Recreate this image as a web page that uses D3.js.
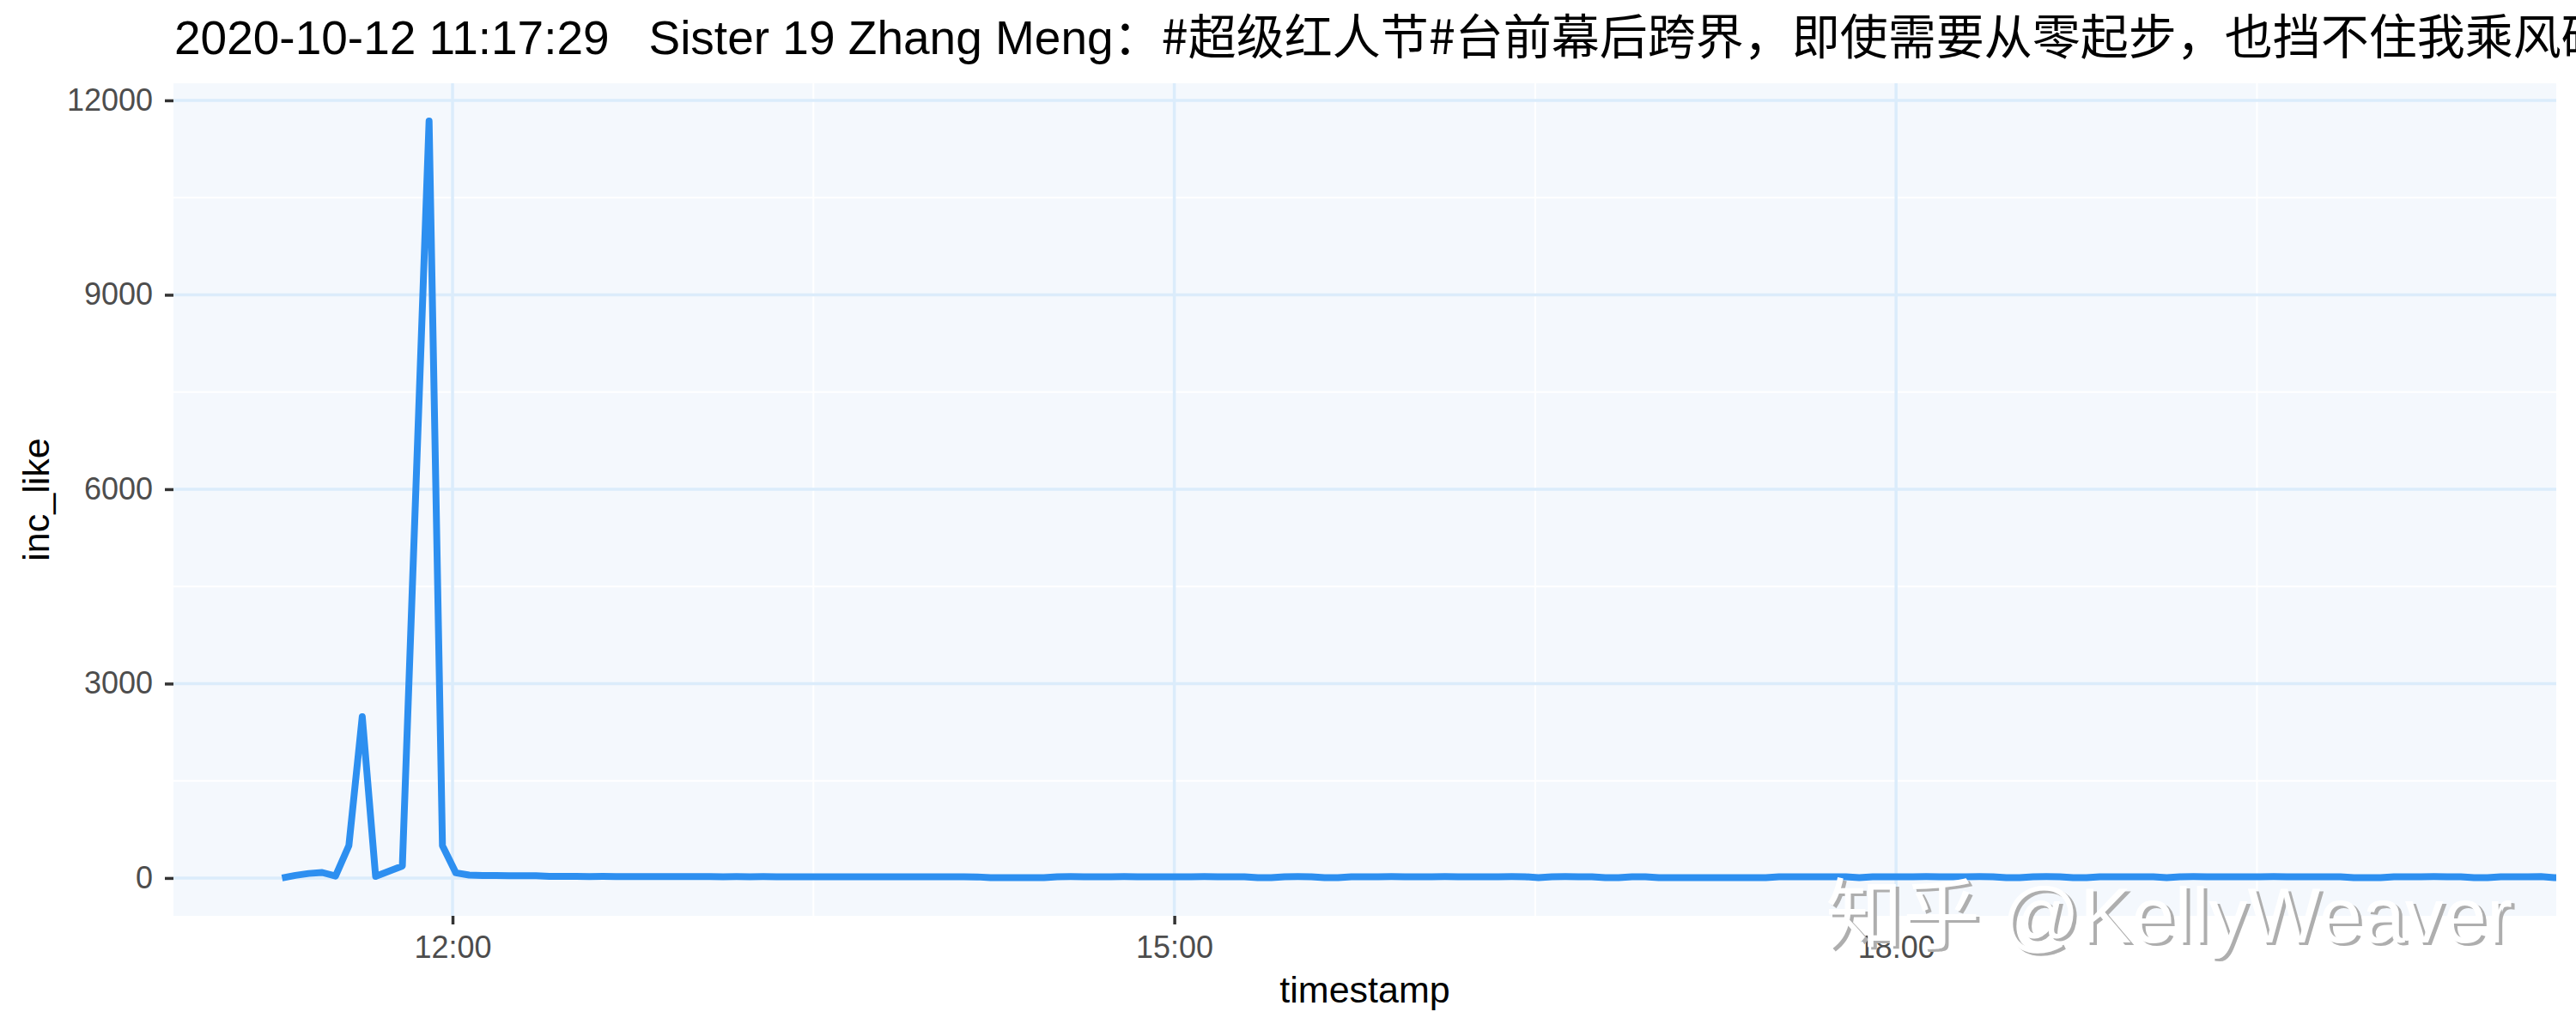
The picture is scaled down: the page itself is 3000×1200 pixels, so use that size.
<!DOCTYPE html>
<html><head><meta charset="utf-8">
<script src="https://cdn.jsdelivr.net/npm/d3@7"></script>
<style>body{margin:0;background:#fff}</style>
</head><body>
<svg id="c" width="3000" height="1200"></svg>
<script>
const DAY = "2020-10-12";
const titleLatin = "2020-10-12 11:17:29   Sister 19 Zhang Meng";
const titleCJK = "：#超级红人节#台前幕后跨界，即使需要从零起步，也挡不住我乘风破浪";
const xTitle = "timestamp";
const yTitle = "inc_like";
const watermark = "知乎 @KellyWeaver";

// sample timestamps (HH:MM:SS on 2020-10-12)
const times = [
 "11:17:29","11:20:49","11:24:09","11:27:29","11:30:49","11:34:09","11:37:29","11:40:49","11:47:29","11:54:09","11:57:29",
 "12:00:49","12:04:09","12:07:29","12:10:49","12:14:09","12:17:29","12:20:49","12:24:09","12:27:29","12:30:49","12:34:09","12:37:29","12:40:49","12:44:09","12:47:29","12:50:49","12:54:09","12:57:29",
 "13:00:49","13:04:09","13:07:29","13:10:49","13:14:09","13:17:29","13:20:49","13:24:09","13:27:29","13:30:49","13:34:09","13:37:29","13:40:49","13:44:09","13:47:29","13:50:49","13:54:09","13:57:29",
 "14:00:49","14:04:09","14:07:29","14:10:49","14:14:09","14:17:29","14:20:49","14:24:09","14:27:29","14:30:49","14:34:09","14:37:29","14:40:49","14:44:09","14:47:29","14:50:49","14:54:09","14:57:29",
 "15:00:49","15:04:09","15:07:29","15:10:49","15:14:09","15:17:29","15:20:49","15:24:09","15:27:29","15:30:49","15:34:09","15:37:29","15:40:49","15:44:09","15:47:29","15:50:49","15:54:09","15:57:29",
 "16:00:49","16:04:09","16:07:29","16:10:49","16:14:09","16:17:29","16:20:49","16:24:09","16:27:29","16:30:49","16:34:09","16:37:29","16:40:49","16:44:09","16:47:29","16:50:49","16:54:09","16:57:29",
 "17:00:49","17:04:09","17:07:29","17:10:49","17:14:09","17:17:29","17:20:49","17:24:09","17:27:29","17:30:49","17:34:09","17:37:29","17:40:49","17:44:09","17:47:29","17:50:49","17:54:09","17:57:29",
 "18:00:49","18:04:09","18:07:29","18:10:49","18:14:09","18:17:29","18:20:49","18:24:09","18:27:29","18:30:49","18:34:09","18:37:29","18:40:49","18:44:09","18:47:29","18:50:49","18:54:09","18:57:29",
 "19:00:49","19:04:09","19:07:29","19:10:49","19:14:09","19:17:29","19:20:49","19:24:09","19:27:29","19:30:49","19:34:09","19:37:29","19:40:49","19:44:09","19:47:29","19:50:49","19:54:09","19:57:29",
 "20:00:49","20:04:09","20:07:29","20:10:49","20:14:09","20:17:29","20:20:49","20:24:09","20:27:29","20:30:49","20:34:09","20:37:29","20:40:49","20:44:09","20:47:29","20:50:49"
];
// increment of likes per sample
const incLike = [
 0,40,70,85,30,500,2490,25,185,11680,500,
 80,45,40,38,36,35,34,25,24,24,23,24,22,23,22,22,21,22,
 21,22,20,21,20,21,20,19,20,20,19,20,19,19,20,18,19,18,
 19,18,18,17,6,5,6,5,6,20,21,20,19,20,21,19,20,20,
 19,20,21,20,19,20,4,5,20,21,19,5,4,20,19,20,21,20,
 19,20,21,19,20,20,19,21,20,5,20,21,20,19,5,4,20,19,
 6,5,4,6,5,5,4,5,6,18,19,20,19,20,20,6,18,19,
 20,19,21,20,19,20,21,20,6,5,20,21,19,6,5,20,19,20,
 19,20,6,20,21,19,20,19,20,20,21,20,19,19,20,20,6,5,
 6,20,19,20,21,20,19,6,5,20,19,20,21,6,5,20
];

const xLimits = ["10:50:24","20:44:38"];
const xTickLabels = ["12:00","15:00","18:00"];
const xMinorTicks = ["10:30","13:30","16:30","19:30"];
const yTicks = [0,3000,6000,9000,12000];
const yMinorTicks = [1500,4500,7500,10500];

const parse = d3.timeParse("%Y-%m-%d %H:%M:%S");
const parseHM = d3.timeParse("%Y-%m-%d %H:%M");
const data = times.map((t,i)=>({t: parse(DAY+" "+t), v: incLike[i]}));

const P = {left:202, right:2977, top:97, bottom:1067};
const svg = d3.select("#c");

const x = d3.scaleTime()
  .domain(xLimits.map(s=>parse(DAY+" "+s)))
  .range([P.left, P.right]);
const yMin = d3.min(incLike), yMax = d3.max(incLike), yPad = 0.05*(yMax-yMin);
const y = d3.scaleLinear().domain([yMin-yPad, yMax+yPad]).range([P.bottom, P.top]);

// panel
svg.append("rect").attr("x",P.left).attr("y",P.top)
  .attr("width",P.right-P.left).attr("height",P.bottom-P.top).attr("fill","#F4F8FD");

const grid = svg.append("g");
// minor grid
grid.selectAll(".ym").data(yMinorTicks).enter().append("line")
  .attr("x1",P.left).attr("x2",P.right).attr("y1",d=>y(d)).attr("y2",d=>y(d))
  .attr("stroke","#ffffff").attr("stroke-width",2);
grid.selectAll(".xm").data(xMinorTicks.map(s=>parseHM(DAY+" "+s)).filter(d=>x(d)>P.left)).enter().append("line")
  .attr("x1",d=>x(d)).attr("x2",d=>x(d)).attr("y1",P.top).attr("y2",P.bottom)
  .attr("stroke","#ffffff").attr("stroke-width",2);
// major grid
grid.selectAll(".yM").data(yTicks).enter().append("line")
  .attr("x1",P.left).attr("x2",P.right).attr("y1",d=>y(d)).attr("y2",d=>y(d))
  .attr("stroke","#DBECFB").attr("stroke-width",3.5);
const xTickDates = xTickLabels.map(s=>parseHM(DAY+" "+s));
grid.selectAll(".xM").data(xTickDates).enter().append("line")
  .attr("x1",d=>x(d)).attr("x2",d=>x(d)).attr("y1",P.top).attr("y2",P.bottom)
  .attr("stroke","#DBECFB").attr("stroke-width",3.5);

// line
svg.append("clipPath").attr("id","clip").append("rect")
  .attr("x",P.left).attr("y",P.top).attr("width",P.right-P.left).attr("height",P.bottom-P.top);
svg.append("path").datum(data)
  .attr("clip-path","url(#clip)")
  .attr("fill","none").attr("stroke","#2D8FF0").attr("stroke-width",8)
  .attr("stroke-linejoin","round")
  .attr("d", d3.line().x(d=>x(d.t)).y(d=>y(d.v)));

// axes
const font = "'Liberation Sans', Arial, 'Noto Sans CJK SC', sans-serif";
const yAxis = svg.append("g").attr("transform",`translate(${P.left},0)`)
  .call(d3.axisLeft(y).tickValues(yTicks).tickSize(10).tickPadding(14).tickFormat(d3.format("d")));
const xAxis = svg.append("g").attr("transform",`translate(0,${P.bottom})`)
  .call(d3.axisBottom(x).tickValues(xTickDates).tickSize(10).tickPadding(13).tickFormat(d3.timeFormat("%H:%M")));
[yAxis,xAxis].forEach(a=>{
  a.select(".domain").remove();
  a.selectAll(".tick line").attr("stroke","#333333").attr("stroke-width",3.5);
  a.selectAll(".tick text").attr("fill","#4D4D4D").style("font-family",font).style("font-size","36px");
});

// titles
const t = svg.append("text").attr("x",P.left+1).attr("y",63)
  .style("font-family",font).style("font-size","55px").style("white-space","pre").attr("xml:space","preserve").attr("fill","#000");
t.append("tspan").text(titleLatin);
t.append("tspan").style("font-family","'Noto Sans CJK SC', sans-serif").style("font-size","56px").text(titleCJK);
svg.append("text").attr("x",(P.left+P.right)/2).attr("y",1168).attr("text-anchor","middle")
  .style("font-family",font).style("font-size","43px").attr("fill","#000").text(xTitle);
svg.append("text").attr("transform",`translate(57,${(P.top+P.bottom)/2}) rotate(-90)`).attr("text-anchor","middle")
  .style("font-family",font).style("font-size","43px").attr("fill","#000").text(yTitle);

// watermark
const wm = svg.append("g").style("font-family",font).style("font-size","90px");
wm.append("text").attr("x",2130).attr("y",1101).attr("fill","#AEAEAE").text(watermark);
wm.append("text").attr("x",2126).attr("y",1098).attr("fill","#FFFFFF").text(watermark);
</script>
</body></html>
